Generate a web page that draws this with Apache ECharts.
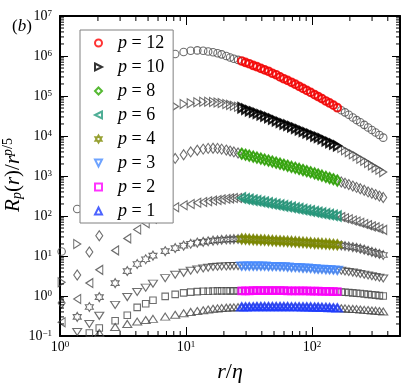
<!doctype html>
<html lang="en">
<head>
<meta charset="UTF-8"/>
<title>Rp(r)/r^(p/5)</title>
<script src="https://cdn.jsdelivr.net/npm/echarts@6/dist/echarts.min.js"></script>
<style>html,body{margin:0;padding:0;background:#fff;}</style>
</head>
<body>
<div id="main" style="width:407px;height:387px;"></div>
<script type="text/javascript">
// separation r/eta (shared by every p)
var rVals = [1.03, 1.37, 1.71, 2.05, 2.74, 3.42, 4.10, 4.79, 5.47, 6.84, 8.21, 9.58, 10.9, 12.3, 13.7, 15.0, 16.4, 17.8, 19.2, 20.9,
  22.4, 24.0, 25.9, 27.7, 29.7, 31.8, 34.2, 36.6, 39.3, 42.1, 45.2, 48.5, 52.0, 55.8, 59.8, 64.1, 68.8, 73.8, 79.1, 84.9,
  91.0, 97.6, 105, 112, 120, 129, 138, 148, 159, 171, 183, 196, 211, 226, 242, 260, 279, 299, 320, 343, 368];

// R_p(r) / r^(p/5)
var p12 = [13, 150, 890, 3500, 2.2e4, 7.9e4, 1.9e5, 3.5e5, 5.6e5, 8.9e5, 1.12e6, 1.26e6, 1.35e6, 1.38e6, 1.35e6, 1.3e6, 1.24e6, 1.17e6, 1.1e6, 1.0e6,
  9.2e5, 8.5e5, 8.0e5, 7.5e5, 6.9e5, 6.4e5, 5.8e5, 5.4e5, 4.9e5, 4.5e5, 4.15e5, 3.7e5, 3.4e5, 3.0e5, 2.7e5, 2.45e5, 2.2e5, 1.97e5, 1.75e5, 1.55e5,
  1.38e5, 1.23e5, 1.08e5, 9.7e4, 8.6e4, 7.5e4, 6.7e4, 5.9e4, 5.1e4, 4.4e4, 3.9e4, 3.4e4, 2.9e4, 2.5e4, 2.2e4, 1.9e4, 1.63e4, 1.41e4, 1.22e4, 1.06e4, 9.1e3];
var p10 = [2.2, 20, 126, 500, 2800, 7900, 1.48e4, 2.2e4, 3.0e4, 4.4e4, 5.5e4, 6.3e4, 6.6e4, 7.0e4, 7.2e4, 7.2e4, 7.1e4, 6.9e4, 6.7e4, 6.3e4,
  6.0e4, 5.7e4, 5.4e4, 5.1e4, 4.7e4, 4.3e4, 4.0e4, 3.7e4, 3.4e4, 3.15e4, 2.9e4, 2.65e4, 2.4e4, 2.2e4, 2.0e4, 1.87e4, 1.71e4, 1.57e4, 1.44e4, 1.31e4,
  1.2e4, 1.1e4, 1.0e4, 9.3e3, 8.5e3, 7.6e3, 6.9e3, 6.3e3, 5.7e3, 5.0e3, 4.4e3, 3.9e3, 3.5e3, 3.1e3, 2.7e3, 2.4e3, 2.1e3, 1.84e3, 1.62e3, 1.43e3, 1.25e3];
var p8 = [0.67, 3.35, 12.6, 32, 112, 280, 525, 830, 1170, 1900, 2750, 3400, 4000, 4400, 4700, 4900, 4950, 4900, 4700, 4450,
  4200, 4000, 3750, 3600, 3400, 3230, 3040, 2880, 2720, 2570, 2430, 2290, 2150, 2030, 1910, 1800, 1690, 1600, 1500, 1410,
  1320, 1240, 1160, 1090, 1020, 950, 890, 830, 770, 710, 660, 610, 560, 520, 480, 440, 400, 370, 343, 315, 290];
var p6 = [0.22, 0.84, 2.1, 4.5, 13.8, 27.5, 46, 66, 85, 126, 166, 186, 200, 214, 224, 234, 243, 251, 260, 269,
  275, 280, 282, 282, 270, 260, 249, 240, 230, 221, 212, 203, 195, 187, 179, 172, 165, 158, 152, 145,
  139, 134, 128, 123, 118, 113, 109, 104, 100, 94, 88, 83, 77, 73, 68, 63, 59, 55, 52, 48, 45];
var p4 = [0.08, 0.3, 0.53, 0.94, 2.1, 4.2, 6.3, 8.3, 10.2, 13.2, 15.8, 18.2, 20.2, 21.6, 22.6, 23.4, 24.3, 24.8, 25.4, 25.8,
  26.1, 26.4, 26.5, 26.6, 26.3, 26.0, 25.7, 25.4, 25.1, 24.8, 24.5, 24.2, 23.9, 23.7, 23.4, 23.1, 22.9, 22.5, 22.2, 21.8,
  21.5, 21.2, 20.8, 20.6, 20.3, 20.0, 19.7, 19.4, 19.1, 18.4, 17.8, 17.3, 16.6, 16.1, 15.3, 14.4, 13.5, 12.7, 12.0, 11.3, 10.6];
var p3 = [0.06, 0.126, 0.2, 0.32, 0.6, 0.94, 1.26, 1.62, 2.04, 2.8, 3.4, 3.8, 4.3, 4.6, 4.9, 5.1, 5.3, 5.4, 5.5, 5.5,
  5.6, 5.6, 5.6, 5.6, 5.6, 5.6, 5.6, 5.6, 5.6, 5.6, 5.5, 5.5, 5.5, 5.4, 5.4, 5.3, 5.2, 5.2, 5.1, 5.0,
  5.0, 4.9, 4.8, 4.7, 4.7, 4.6, 4.55, 4.5, 4.4, 4.3, 4.1, 4.0, 3.85, 3.7, 3.56, 3.42, 3.26, 3.13, 3.0, 2.87, 2.75];
var p2 = [0.04, 0.07, 0.119, 0.158, 0.24, 0.33, 0.52, 0.64, 0.78, 0.98, 1.1, 1.2, 1.25, 1.29, 1.31, 1.32, 1.33, 1.34, 1.34, 1.34,
  1.34, 1.34, 1.34, 1.35, 1.35, 1.35, 1.36, 1.36, 1.36, 1.36, 1.36, 1.36, 1.36, 1.36, 1.36, 1.35, 1.35, 1.35, 1.35, 1.34,
  1.34, 1.33, 1.33, 1.32, 1.31, 1.31, 1.30, 1.29, 1.28, 1.26, 1.24, 1.22, 1.20, 1.17, 1.15, 1.12, 1.10, 1.07, 1.05, 1.02, 1.0];
var p1 = [0.03, 0.05, 0.08, 0.119, 0.168, 0.2, 0.229, 0.25, 0.268, 0.305, 0.34, 0.37, 0.4, 0.42, 0.44, 0.46, 0.48, 0.49, 0.5, 0.51,
  0.515, 0.52, 0.525, 0.53, 0.53, 0.535, 0.535, 0.54, 0.54, 0.54, 0.54, 0.54, 0.54, 0.54, 0.54, 0.54, 0.535, 0.535, 0.535, 0.53,
  0.53, 0.53, 0.525, 0.525, 0.52, 0.515, 0.51, 0.505, 0.5, 0.495, 0.49, 0.48, 0.475, 0.47, 0.46, 0.45, 0.445, 0.435, 0.43, 0.42, 0.41];

var pLabels = ['12', '10', '8', '6', '4', '3', '2', '1'];
var curves = [p12, p10, p8, p6, p4, p3, p2, p1];
// fit range highlighted in colour
var fitRange = [27, 160];
var xRange = [1, 500];
var yRange = [0.1, 1e7];

var serif = '"Liberation Serif", "Times New Roman", serif';
var grey = '#4a4a4a';
var hexagram = 'path://M0,-10L2.887,-5L8.66,-5L5.774,0L8.66,5L2.887,5L0,10L-2.887,5L-8.66,5L-5.774,0L-8.66,-5L-2.887,-5Z';
var looks = [
  { symbol: 'circle', size: 7.5, color: '#ff0000' },
  { symbol: 'path://M0,0L10,5L0,10Z', size: [7, 9], color: '#000000' },
  { symbol: 'diamond', size: [7, 10], color: '#2ca800' },
  { symbol: 'path://M10,0L0,5L10,10Z', size: [7, 9], color: '#239a7c' },
  { symbol: hexagram, size: [8, 9], color: '#7d8a00' },
  { symbol: 'path://M0,0L10,0L5,10Z', size: [9, 7], color: '#4a8cff' },
  { symbol: 'rect', size: 6.5, color: '#ff00ff' },
  { symbol: 'triangle', size: [9, 7], color: '#1f3cff' }
];

function pairs(arr, inFit) {
  var out = [];
  for (var i = 0; i < rVals.length; i++) {
    var r = rVals[i];
    if (inFit && (r < fitRange[0] || r > fitRange[1])) continue;
    out.push([r, arr[i]]);
  }
  return out;
}

var series = [];
// grey: whole range
for (var k = 0; k < curves.length; k++) {
  series.push({
    name: 'all' + pLabels[k], type: 'scatter', data: pairs(curves[k], false),
    symbol: looks[k].symbol, symbolSize: looks[k].size,
    itemStyle: { color: 'rgba(0,0,0,0)', borderColor: grey, borderWidth: 1.1 },
    silent: true, animation: false
  });
}
// coloured: fit range
var legendNames = [];
for (var k = 0; k < curves.length; k++) {
  var nm = 'p=' + pLabels[k];
  legendNames.push(nm);
  series.push({
    name: nm, type: 'scatter', data: pairs(curves[k], true),
    symbol: looks[k].symbol, symbolSize: looks[k].size,
    itemStyle: { color: 'rgba(0,0,0,0)', borderColor: looks[k].color, borderWidth: 2.2 },
    silent: true, animation: false
  });
}

// minor ticks 2..9 in every decade
var xMinor = [], yMinor = [];
for (var d = 1; d < xRange[1]; d *= 10) {
  for (var m = 2; m <= 9; m++) { if (m * d < xRange[1]) xMinor.push(m * d); }
}
for (var e = -1; e < 7; e++) {
  for (var m = 2; m <= 9; m++) yMinor.push(m * Math.pow(10, e));
}
function tickLine(x1, y1, x2, y2) {
  return { type: 'line', shape: { x1: x1, y1: y1, x2: x2, y2: y2 }, style: { stroke: '#000', lineWidth: 1 } };
}
series.push({
  type: 'custom', coordinateSystem: 'cartesian2d', silent: true, z: 10, animation: false,
  data: xMinor.map(function (v) { return [v, 1]; }),
  renderItem: function (params, api) {
    var b = api.coord([api.value(0), yRange[0]]);
    var t = api.coord([api.value(0), yRange[1]]);
    return { type: 'group', children: [tickLine(b[0], b[1], b[0], b[1] - 5), tickLine(t[0], t[1], t[0], t[1] + 5)] };
  }
});
series.push({
  type: 'custom', coordinateSystem: 'cartesian2d', silent: true, z: 10, animation: false,
  data: yMinor.map(function (v) { return [2, v]; }),
  renderItem: function (params, api) {
    var l = api.coord([xRange[0], api.value(1)]);
    var r = api.coord([xRange[1], api.value(1)]);
    return { type: 'group', children: [tickLine(l[0], l[1], l[0] + 4, l[1]), tickLine(r[0], r[1], r[0] - 4, r[1])] };
  }
});

function powLabel(v) {
  var lg = Math.log(v) / Math.LN10;
  var ex = Math.round(lg);
  if (Math.abs(lg - ex) > 1e-6) return '';
  return '{b|10}{s|' + (ex < 0 ? '\u2212' + (-ex) : ex) + '}';
}
var powRich = {
  b: { fontFamily: serif, fontSize: 14, lineHeight: 14, padding: [6, 0, 0, 0], verticalAlign: 'bottom', color: '#000' },
  s: { fontFamily: serif, fontSize: 9, lineHeight: 10, verticalAlign: 'top', color: '#000' }
};
var frameLine = { lineStyle: { color: '#000', width: 2 } };

function xAx(pos, show) {
  return {
    type: 'log', min: xRange[0], max: xRange[1], position: pos, splitNumber: 3,
    axisLine: frameLine, splitLine: { show: false },
    axisTick: { inside: true, length: 9, lineStyle: { color: '#000', width: 1 } },
    axisLabel: { show: show, formatter: powLabel, margin: 4, rich: powRich }
  };
}
function yAx(pos, show) {
  return {
    type: 'log', min: yRange[0], max: yRange[1], position: pos, splitNumber: 8,
    axisLine: frameLine, splitLine: { show: false },
    axisTick: { inside: true, length: 8, lineStyle: { color: '#000', width: 1 } },
    axisLabel: { show: show, formatter: powLabel, margin: 8, rich: powRich }
  };
}

var xMain = xAx('bottom', true);
xMain.name = '{i|r}{n|/}{i|\u03b7}';
xMain.nameLocation = 'middle';
xMain.nameGap = 25;
xMain.nameTextStyle = { rich: {
  i: { fontFamily: serif, fontStyle: 'italic', fontSize: 22, color: '#000' },
  n: { fontFamily: serif, fontSize: 22, color: '#000' }
} };

var myChart = echarts.init(document.getElementById('main'), null, { renderer: 'canvas' });
var option = {
  animation: false,
  backgroundColor: '#fff',
  grid: { left: 60, right: 7, top: 16, bottom: 51, outerBoundsMode: 'none', containLabel: false },
  xAxis: [xMain, xAx('top', false)],
  yAxis: [yAx('left', true), yAx('right', false)],
  legend: {
    data: legendNames, orient: 'vertical', left: 80, top: 30,
    padding: [1, 9, 0, 14], itemGap: 0, itemWidth: 7, itemHeight: 7,
    backgroundColor: '#fff', borderColor: '#808080', borderWidth: 1,
    itemStyle: { borderWidth: 2 },
    selectedMode: false,
    formatter: function (name) { return '{i|p}{n| = ' + name.split('=')[1] + '}'; },
    textStyle: {
      fontFamily: serif, fontSize: 18, lineHeight: 24, color: '#000',
      rich: {
        i: { fontFamily: serif, fontStyle: 'italic', fontSize: 18, lineHeight: 24, padding: [0, 0, 0, 11], color: '#000' },
        n: { fontFamily: serif, fontSize: 18, lineHeight: 24, color: '#000' }
      }
    }
  },
  graphic: [{
    type: 'text', left: 12, top: 18,
    style: {
      text: '{n|(}{i|b}{n|)}',
      rich: {
        n: { fontFamily: serif, fontSize: 17, fill: '#000' },
        i: { fontFamily: serif, fontStyle: 'italic', fontSize: 17, fill: '#000' }
      }
    }
  }, {
    type: 'text', x: 13, y: 175, rotation: Math.PI / 2,
    style: {
      text: '{i|R}{sb|p}{n|(}{i|r}{n|)/}{i|r}{sp|p}{sn|/5}',
      align: 'center', verticalAlign: 'middle',
      rich: {
        i: { fontFamily: serif, fontStyle: 'italic', fontSize: 21, lineHeight: 23, fill: '#000' },
        n: { fontFamily: serif, fontSize: 21, lineHeight: 23, fill: '#000' },
        sb: { fontFamily: serif, fontStyle: 'italic', fontSize: 14, lineHeight: 14, verticalAlign: 'bottom', fill: '#000' },
        sp: { fontFamily: serif, fontStyle: 'italic', fontSize: 14, lineHeight: 14, verticalAlign: 'top', fill: '#000' },
        sn: { fontFamily: serif, fontSize: 14, lineHeight: 14, verticalAlign: 'top', fill: '#000' }
      }
    }
  }],
  series: series
};
myChart.setOption(option);
</script>
</body>
</html>
